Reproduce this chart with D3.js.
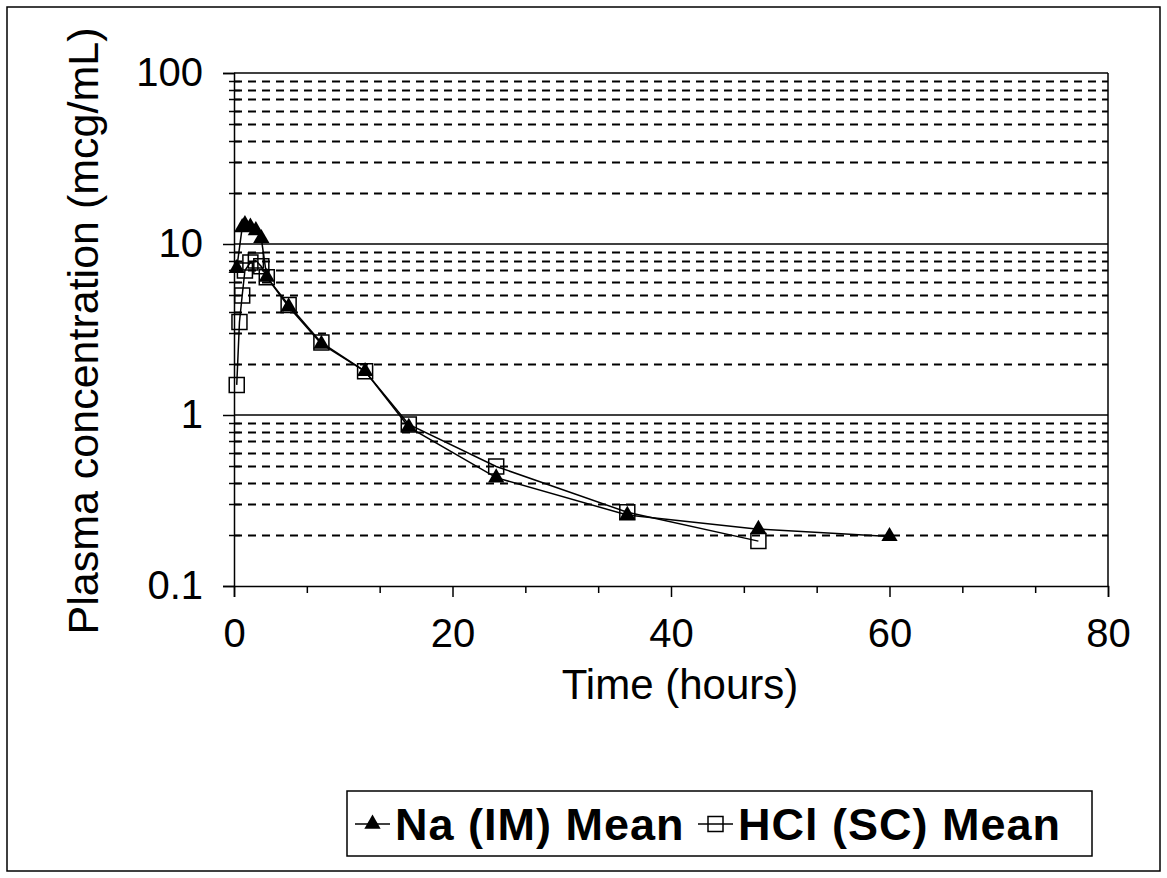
<!DOCTYPE html>
<html>
<head>
<meta charset="utf-8">
<script src="https://cdn.jsdelivr.net/npm/d3@7"></script>
<style>
  body { margin: 0; background: #fff; }
  svg { display: block; font-family: "Liberation Sans", Arial, sans-serif; }
</style>
</head>
<body>
<div id="chart"></div>
<script>
// values
const naTimes = [0.25, 0.75, 1, 1.5, 2, 2.5, 3, 5, 8, 12, 16, 24, 36, 48, 60];
const naValues = [7.2, 12.5, 13.0, 12.6, 12.0, 10.8, 6.4, 4.3, 2.6, 1.8, 0.85, 0.43, 0.26, 0.215, 0.195];
const hclTimes = [0.25, 0.5, 0.75, 1, 1.5, 2, 2.5, 3, 5, 8, 12, 16, 24, 36, 48];
const hclValues = [1.5, 3.5, 5.0, 7.0, 7.8, 8.0, 7.4, 6.4, 4.4, 2.65, 1.8, 0.88, 0.50, 0.27, 0.183];
const xTicks = [0, 20, 40, 60, 80];
const yTicks = [0.1, 1, 10, 100];
const yTickLabels = ['0.1', '1', '10', '100'];
const seriesNames = ['Na (IM) Mean', 'HCl (SC) Mean'];

const W = 1167, H = 878;
const plotL = 234, plotR = 1108, plotT = 73, plotB = 586;

const svg = d3.select('#chart').append('svg')
    .attr('width', W)
    .attr('height', H);

// outer frame
svg.append('rect')
    .attr('x', 7).attr('y', 7)
    .attr('width', 1153).attr('height', 864)
    .attr('fill', 'none').attr('stroke', '#000').attr('stroke-width', 1.5);

const x = d3.scaleLinear().domain([0, 80]).range([plotL, plotR]);
const y = d3.scaleLog().domain([0.1, 100]).range([plotB, plotT]);

// minor grid (2..9 of each decade) dashed
const minorY = [];
[0.1, 1, 10].forEach(d => { for (let k = 2; k <= 9; k++) minorY.push(+(d * k).toPrecision(3)); });

svg.append('g').selectAll('line').data(minorY).join('line')
    .attr('x1', plotL).attr('x2', plotR)
    .attr('y1', d => Math.round(y(d)) + 0.5).attr('y2', d => Math.round(y(d)) + 0.5)
    .attr('stroke', '#000').attr('stroke-width', 2)
    .attr('stroke-dasharray', '8,6');

// major grid solid
svg.append('g').selectAll('line').data([1, 10, 100]).join('line')
    .attr('x1', plotL).attr('x2', plotR)
    .attr('y1', d => y(d)).attr('y2', d => y(d))
    .attr('stroke', '#000').attr('stroke-width', 1.5);

// right border of plot area
svg.append('line')
    .attr('x1', plotR).attr('x2', plotR).attr('y1', plotT).attr('y2', plotB)
    .attr('stroke', '#000').attr('stroke-width', 1.5);

// y axis minor ticks cross the axis
svg.append('g').selectAll('line').data(minorY).join('line')
    .attr('x1', plotL - 5).attr('x2', plotL + 6)
    .attr('y1', d => Math.round(y(d)) + 0.5).attr('y2', d => Math.round(y(d)) + 0.5)
    .attr('stroke', '#000').attr('stroke-width', 1.5);

// y axis
const yAxis = d3.axisLeft(y)
    .tickValues(yTicks)
    .tickFormat((d, i) => yTickLabels[i])
    .tickSize(11)
    .tickPadding(20);
const gy = svg.append('g').attr('transform', `translate(${plotL},0)`).call(yAxis);
gy.select('.domain').attr('stroke-width', 1.5);
gy.selectAll('.tick line').attr('stroke-width', 1.5);
gy.selectAll('.tick text').attr('font-size', 40).attr('font-family', null).attr('fill', '#000');

// x axis minor ticks
const minorX = d3.range(0, 81, 20 / 3).filter(d => Math.abs(d / 20 - Math.round(d / 20)) > 0.01);
svg.append('g').attr('transform', `translate(0,${plotB})`)
    .call(d3.axisBottom(x).tickValues(minorX).tickSize(7).tickFormat(''))
    .call(g => g.select('.domain').remove())
    .selectAll('.tick line').attr('stroke-width', 1.5);

// x axis
const xAxis = d3.axisBottom(x).tickValues(xTicks).tickSize(11).tickPadding(22);
const gx = svg.append('g').attr('transform', `translate(0,${plotB})`).call(xAxis);
gx.select('.domain').attr('stroke-width', 1.5);
gx.selectAll('.tick line').attr('stroke-width', 1.5);
gx.selectAll('.tick text').attr('font-size', 40).attr('font-family', null).attr('fill', '#000');

// axis titles
svg.append('text')
    .attr('x', 680).attr('y', 699)
    .attr('text-anchor', 'middle')
    .attr('font-size', 42)
    .text('Time (hours)');

svg.append('text')
    .attr('transform', 'translate(98,331) rotate(-90)')
    .attr('text-anchor', 'middle')
    .attr('font-size', 43)
    .text('Plasma concentration (mcg/mL)');

// series
const line = d3.line().x(d => x(d[0])).y(d => y(d[1]));
const naData = naTimes.map((t, i) => [t, naValues[i]]);
const hclData = hclTimes.map((t, i) => [t, hclValues[i]]);

const triangle = d3.symbol(d3.symbolTriangle, 115);
const square = d3.symbol(d3.symbolSquare, 225);

svg.append('path').datum(hclData)
    .attr('d', line).attr('fill', 'none').attr('stroke', '#000').attr('stroke-width', 1.5);
svg.append('path').datum(naData)
    .attr('d', line).attr('fill', 'none').attr('stroke', '#000').attr('stroke-width', 1.5);

svg.append('g').selectAll('path').data(naData).join('path')
    .attr('transform', d => `translate(${x(d[0])},${y(d[1])})`)
    .attr('d', triangle)
    .attr('fill', '#000');

svg.append('g').selectAll('path').data(hclData).join('path')
    .attr('transform', d => `translate(${x(d[0])},${y(d[1])})`)
    .attr('d', square)
    .attr('fill', 'none').attr('stroke', '#000').attr('stroke-width', 1.5);

// legend
const lg = svg.append('g');
lg.append('rect')
    .attr('x', 347).attr('y', 791).attr('width', 745).attr('height', 65)
    .attr('fill', '#fff').attr('stroke', '#000').attr('stroke-width', 1.5);

const legendItems = [
    { name: seriesNames[0], x0: 355, sym: triangle, fill: '#000' },
    { name: seriesNames[1], x0: 698, sym: square, fill: 'none' }
];
legendItems.forEach(it => {
    lg.append('line')
        .attr('x1', it.x0).attr('x2', it.x0 + 35).attr('y1', 824).attr('y2', 824)
        .attr('stroke', '#000').attr('stroke-width', 1.5);
    lg.append('path')
        .attr('transform', `translate(${it.x0 + 17.5},824)`)
        .attr('d', it.sym)
        .attr('fill', it.fill).attr('stroke', it.fill === 'none' ? '#000' : null)
        .attr('stroke-width', 1.5);
    lg.append('text')
        .attr('x', it.x0 + 40).attr('y', 840)
        .attr('font-size', 45).attr('font-weight', 'bold')
        .attr('letter-spacing', 1)
        .text(it.name);
});
</script>
</body>
</html>
